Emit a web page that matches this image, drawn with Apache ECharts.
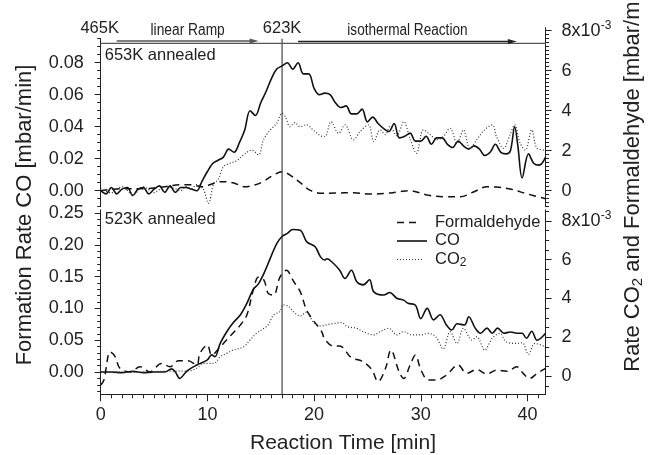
<!DOCTYPE html>
<html><head><meta charset="utf-8">
<script src="https://cdn.jsdelivr.net/npm/echarts@6/dist/echarts.min.js"></script>
<style>html,body{margin:0;padding:0;background:#fff}#c{width:650px;height:455px}</style>
</head><body><div id="c"></div>
<script>
// ---------- data (time [min], value) ----------
// top panel (653K annealed); CO in mbar/min, CO2 & formaldehyde in 1e-3 mbar/min
const coTop = [[0,0.000],[0.5,-0.002],[1,0.002],[1.5,-0.002],[2,0.001],[2.5,0.002],[3,-0.003],[3.5,0.001],[4,0.002],[4.5,-0.002],[5,0.001],[5.5,0.003],[6,-0.001],[6.5,0.003],[7,-0.001],[7.5,0.002],[8,0.002],[8.5,0.001],[9,0.000],[9.5,0.006],[10,0.012],[10.5,0.017],[11,0.019],[11.5,0.021],[12,0.026],[12.5,0.024],[13,0.030],[13.5,0.038],[14,0.050],[14.5,0.047],[15,0.055],[15.5,0.062],[16,0.070],[16.5,0.076],[17,0.078],[17.5,0.080],[18,0.076],[18.5,0.080],[19,0.073],[19.5,0.073],[20,0.064],[20.5,0.060],[21,0.061],[21.5,0.060],[22,0.055],[22.5,0.052],[23,0.053],[23.5,0.048],[24,0.048],[24.5,0.051],[25,0.043],[25.5,0.046],[26,0.042],[26.5,0.039],[27,0.037],[27.5,0.042],[28,0.033],[28.5,0.034],[29,0.036],[29.5,0.031],[30,0.031],[30.5,0.034],[31,0.029],[31.5,0.033],[32,0.033],[32.5,0.029],[33,0.027],[33.5,0.031],[34,0.028],[34.5,0.026],[35,0.028],[35.5,0.026],[36,0.022],[36.5,0.024],[37,0.029],[37.5,0.024],[38,0.023],[38.4,0.025],[38.8,0.040],[39.1,0.028],[39.5,0.008],[40.1,0.023],[40.6,0.017],[41.1,0.016],[41.7,0.021]];
const co2Top = [[0,0.1],[1,-0.1],[2,0.2],[3,-0.2],[4,0.2],[5,-0.1],[6,0.2],[7,0.1],[7.5,0.0],[8,0.2],[8.5,0.1],[9,0.3],[9.6,0.1],[10.1,-0.63],[10.6,0.37],[11,0.54],[11.5,1.2],[12.1,1.37],[12.75,1.5],[13.4,1.79],[14.15,2.03],[14.8,1.79],[15.25,2.54],[15.9,3.04],[16.5,3.37],[17,3.87],[17.3,3.7],[17.75,3.2],[18.2,3.4],[18.7,3.2],[19.3,3.3],[19.9,3.04],[20.6,2.75],[21.0,2.7],[21.6,3.45],[22.3,2.87],[22.9,3.29],[23.7,2.54],[24.3,2.95],[25.1,3.29],[25.6,2.45],[26.2,3.04],[26.7,2.8],[27.1,3.2],[27.75,2.75],[28.4,3.45],[29,2.6],[29.6,1.87],[30.25,3.04],[30.9,2.8],[31.5,2.55],[32.1,2.7],[32.75,3.12],[33.4,2.37],[34,3.04],[34.6,2.12],[35.25,2.55],[35.9,3.0],[36.7,3.29],[37.1,2.7],[37.75,2.12],[38.4,2.85],[38.8,3.29],[39.3,2.4],[39.8,2.03],[40.4,3.04],[40.9,2.12],[41.7,2.03]];
const hchoTop = [[0,0.0],[2,0.1],[4,0.1],[6,0.2],[7.5,0.3],[8.5,0.3],[9.5,0.2],[10.5,0.35],[11.2,0.45],[12.4,0.4],[13.5,0.2],[14.5,0.3],[15.2,0.45],[16.2,0.78],[17,0.95],[17.75,0.78],[18.7,0.4],[19.6,0.03],[20.7,-0.13],[22,-0.12],[23.7,-0.1],[25.2,-0.17],[26.8,-0.13],[28,-0.05],[29,0.0],[30,-0.12],[30.6,-0.22],[32.4,-0.3],[33.7,-0.3],[35,-0.05],[36.2,0.2],[37.1,0.18],[38.5,0.07],[39.9,-0.15],[41.7,-0.4]];
// bottom panel (523K annealed)
const coBot = [[0,0.000],[1,0.000],[2,-0.001],[3,0.001],[4,-0.001],[5,0.000],[6,0.000],[6.65,0.005],[7.0,0.000],[7.4,-0.010],[8.1,0.002],[9,0.011],[10,0.019],[10.4,0.027],[10.7,0.024],[11.2,0.045],[11.8,0.063],[12.4,0.077],[13.1,0.090],[13.7,0.108],[14.3,0.130],[14.8,0.139],[15.3,0.155],[15.9,0.179],[16.5,0.202],[17,0.213],[17.5,0.218],[18,0.224],[18.7,0.223],[19.3,0.205],[20.1,0.197],[20.6,0.181],[21.0,0.176],[21.2,0.178],[21.8,0.171],[22.4,0.160],[22.9,0.147],[23.5,0.160],[24,0.142],[24.6,0.137],[25.2,0.145],[25.6,0.126],[26.5,0.121],[27.1,0.125],[27.75,0.116],[28.4,0.113],[28.8,0.108],[29.5,0.105],[30,0.084],[30.6,0.100],[31.2,0.082],[31.8,0.090],[32.4,0.074],[32.9,0.066],[33.4,0.076],[34.1,0.074],[34.5,0.087],[35.1,0.069],[35.6,0.061],[36.2,0.069],[36.7,0.061],[37.2,0.069],[37.8,0.061],[38.4,0.063],[39.0,0.061],[39.5,0.061],[39.9,0.053],[40.4,0.064],[40.9,0.050],[41.7,0.061]];
const co2Bot = [[0,0.2],[2,0.2],[4,0.2],[6,0.25],[8,0.25],[9,0.4],[9.6,0.65],[10.6,0.65],[11.2,0.99],[11.8,1.17],[12.4,1.34],[13.4,1.51],[14,1.86],[14.6,2.2],[15.3,2.46],[15.7,2.64],[16.2,3.15],[16.8,3.32],[17.1,3.67],[17.6,3.6],[18.1,3.3],[18.7,3.1],[19.3,3.3],[19.9,2.8],[20.6,2.58],[21.5,2.68],[22.6,2.75],[23.1,2.55],[24,2.46],[24.6,2.29],[25.6,2.12],[26.2,2.29],[27,2.46],[27.75,2.12],[28.4,2.29],[29.2,2.12],[30,2.12],[30.7,2.2],[31.4,2.03],[32.1,1.4],[32.75,2.29],[33.4,1.68],[34,2.46],[34.8,1.86],[35.25,2.03],[36,1.34],[36.7,1.95],[37.4,2.2],[38,1.77],[39,1.68],[39.5,1.72],[40.1,1.12],[40.7,1.68],[41.7,1.51]];
const hchoBot = [[0,-0.46],[0.3,-0.2],[0.9,1.25],[1.35,1.0],[1.8,0.4],[2.75,0.22],[3.7,0.48],[4.6,0.22],[5.7,0.65],[6.5,0.48],[7.3,0.79],[8.2,0.79],[9.0,0.57],[9.3,1.17],[10,1.6],[10.4,1.08],[11.2,1.5],[12.1,2.04],[13.1,2.64],[13.7,3.15],[14.3,4.43],[14.8,5.1],[15.3,4.95],[15.7,4.26],[16.2,4.18],[16.8,5.1],[17.4,5.45],[18.1,4.86],[18.7,4.35],[19.3,3.4],[19.9,2.89],[20.7,2.3],[21.0,1.9],[21.8,1.55],[22.4,1.55],[23.5,0.94],[24.5,0.77],[25.4,0.34],[26,-0.29],[26.7,0.4],[27.2,1.34],[28,0.17],[28.4,-0.12],[29,0.57],[29.5,1.08],[30,0.34],[30.7,-0.2],[31.5,-0.2],[32.4,0.05],[33.5,0.57],[34.3,0.14],[35.25,0.34],[36.2,0.1],[37.1,0.3],[38.1,0.25],[39,0.48],[39.6,0.14],[40.2,-0.12],[40.9,0.14],[41.7,0.4]];

// tick labels
const xTicks = [0, 10, 20, 30, 40];
const coTopTicks = [0, 0.02, 0.04, 0.06, 0.08];
const coBotTicks = [0, 0.05, 0.10, 0.15, 0.20, 0.25];
const rightTicks = [0, 2, 4, 6, 8];
const legendNames = ['Formaldehyde', 'CO', 'CO2'];
const rampStartT = 0, rampEndT = 17;
const tempLabels = ['465K', '623K'];

// ---------- styling ----------
const FONT = '"Liberation Sans", Arial, Helvetica, sans-serif';
const INK = '#222';
const X_MIN = 0, X_MAX = 41.7;
function steps(a, b, s) { const o = []; const n = Math.round((b - a) / s); for (let i = 0; i <= n; i++) o.push(+(a + i * s).toFixed(6)); return o; }

const labelRich = { sup: { fontSize: 12, fontFamily: FONT, color: INK, padding: [0, 0, 10, 0] } };
function yAx(grid, pos, min, max, ticks, len, labels) {
  return {
    type: 'value', gridIndex: grid, position: pos, min: min, max: max,
    splitLine: { show: false },
    axisLine: { show: !!labels, onZero: false, lineStyle: { color: INK, width: 1 } },
    axisTick: { show: true, customValues: ticks, length: len, inside: false, lineStyle: { color: INK, width: 1 } },
    axisLabel: labels ? { show: true, customValues: labels.values, formatter: labels.fmt, margin: pos === 'left' ? 17 : 16, fontSize: 18, color: INK, fontFamily: FONT, rich: labelRich } : { show: false }
  };
}
function xAx(grid, show, ticks, len, labels) {
  return {
    type: 'value', gridIndex: grid, position: 'bottom', min: X_MIN, max: X_MAX, show: show,
    splitLine: { show: false },
    axisLine: { show: !!labels, onZero: false, lineStyle: { color: INK, width: 1 } },
    axisTick: { show: true, customValues: ticks, length: len, lineStyle: { color: INK, width: 1 } },
    axisLabel: labels ? { show: true, customValues: labels, margin: 12, fontSize: 18, color: INK, fontFamily: FONT } : { show: false }
  };
}
const rightFmt = v => Math.round(v) === 8 ? '8x10{sup|-3}' : String(Math.round(v));

const gridBase = { left: 100.7, right: 104.4, outerBoundsMode: 'none', containLabel: false };
const option = {
  animation: false,
  backgroundColor: '#fff',
  grid: [
    Object.assign({ top: 38.7, height: 168 }, gridBase),
    Object.assign({ top: 27.7, height: 179 }, gridBase),
    Object.assign({ top: 209.8, height: 184.5 }, gridBase),
    Object.assign({ top: 209.8, height: 184.5 }, gridBase)
  ],
  xAxis: [
    xAx(0, false, [], 0, null),
    xAx(1, false, [], 0, null),
    xAx(2, true, xTicks, 7, xTicks),
    xAx(2, true, steps(0, 41, 1), 4, null),
    xAx(3, false, [], 0, null)
  ],
  yAxis: [
    yAx(0, 'left', -0.01, 0.095, coTopTicks, 6, { values: coTopTicks, fmt: v => v.toFixed(2) }),
    yAx(0, 'left', -0.01, 0.095, steps(-0.01, 0.095, 0.005), 3.5, null),
    yAx(1, 'right', -0.8, 8.15, rightTicks, 6, { values: rightTicks, fmt: rightFmt }),
    yAx(1, 'right', -0.8, 8.15, steps(-0.8, 8.0, 0.2), 3.5, null),
    yAx(2, 'left', -0.035, 0.255, coBotTicks, 6, { values: coBotTicks, fmt: v => v.toFixed(2) }),
    yAx(2, 'left', -0.035, 0.255, steps(-0.03, 0.25, 0.01), 3.5, null),
    yAx(3, 'right', -0.94, 8.57, rightTicks, 6, { values: rightTicks, fmt: rightFmt }),
    yAx(3, 'right', -0.94, 8.57, steps(-0.5, 8.5, 0.5), 3.5, null)
  ],
  series: []
};
const solid = { color: '#111', width: 1.6, type: 'solid' };
const dashed = { color: '#111', width: 1.5, type: [7, 5] };
const dotted = { color: '#333', width: 1.2, type: [1, 2] };
function line(name, data, xi, yi, ls) {
  return { type: 'line', name: name, data: data, xAxisIndex: xi, yAxisIndex: yi, showSymbol: false, symbol: 'none',
    smooth: 0.35, lineStyle: ls, itemStyle: { color: ls.color }, z: 3 };
}
option.series.push(
  line('Formaldehyde', hchoBot, 4, 6, dashed),
  line('CO', coBot, 2, 4, solid),
  line('CO2', co2Bot, 4, 6, dotted),
  line('Formaldehyde', hchoTop, 1, 2, dashed),
  line('CO', coTop, 0, 0, solid),
  line('CO2', co2Top, 1, 2, dotted)
);

const chart = echarts.init(document.getElementById('c'), null, { renderer: 'canvas' });
chart.setOption(option);

// ---------- annotations positioned through the axes ----------
const px = t => chart.convertToPixel({ xAxisIndex: 2 }, t);
const xR0 = px(rampStartT), xR1 = px(rampEndT), xEnd = px(X_MAX);
function txt(text, x, y, size, align, extra) {
  return { type: 'text', x: x, y: y, z: 10, silent: true,
    style: Object.assign({ text: text, fill: INK, fontSize: size, fontFamily: FONT,
      align: align || 'center', verticalAlign: 'middle', textAlign: align || 'center', textVerticalAlign: 'middle' }, extra || {}) };
}
function arrow(x1, x2, y, color) {
  return [
    { type: 'line', z: 10, silent: true, shape: { x1: x1, y1: y, x2: x2 - 6, y2: y }, style: { stroke: color, lineWidth: 1.3 } },
    { type: 'polygon', z: 10, silent: true, shape: { points: [[x2, y], [x2 - 9, y - 2.5], [x2 - 9, y + 2.5]] }, style: { fill: color } }
  ];
}
const subRich = s => ({ sub: { fontSize: s, fontFamily: FONT, fill: INK, padding: [Math.round(s * 0.65), 0, 0, 0] } });
const g = [];
g.push({ type: 'line', z: 9, silent: true, shape: { x1: xR1, y1: 38.7, x2: xR1, y2: 394.3 }, style: { stroke: INK, lineWidth: 1 } });
g.push({ type: 'line', z: 9, silent: true, shape: { x1: xR0, y1: 43.3, x2: xEnd, y2: 43.3 }, style: { stroke: '#555', lineWidth: 1.3 } });
g.push(...arrow(px(1.5), px(14.8), 41, '#555'));
g.push(...arrow(px(18.5), px(39.0), 41.5, '#222'));
g.push(txt(tempLabels[0], xR0 - 1, 28, 16.5));
g.push(txt(tempLabels[1], xR1, 28, 16.5));
g.push(Object.assign(txt('linear Ramp', (px(1.5) + px(14.8)) / 2, 31, 16), { scaleX: 0.86 }));
g.push(Object.assign(txt('isothermal Reaction', (px(18.5) + px(39.0)) / 2, 31, 16), { scaleX: 0.85 }));
g.push(txt('653K annealed', xR0 + 4, 55, 16.5, 'left'));
g.push(txt('523K annealed', xR0 + 4, 219, 16.5, 'left'));
g.push(txt('Reaction Time [min]', 343, 443, 21));
g.push(Object.assign(txt('Formation Rate CO [mbar/min]', 25, 215, 22), { rotation: Math.PI / 2 }));
g.push(Object.assign(txt('Rate CO{sub|2} and Formaldehyde [mbar/min]', 633, 175, 22, 'center', { rich: subRich(15) }), { rotation: Math.PI / 2 }));

// legend (series styles reused)
const legendStyles = [dashed, solid, dotted];
const legendLens = [22, 30, 26];
const legendYs = [222.5, 241, 259.5];
legendNames.forEach((n, i) => {
  const ls = legendStyles[i];
  g.push({ type: 'line', z: 10, silent: true, shape: { x1: 397, y1: legendYs[i], x2: 397 + legendLens[i], y2: legendYs[i] },
    style: { stroke: ls.color, lineWidth: ls.width, lineDash: Array.isArray(ls.type) ? ls.type : null } });
  g.push(txt(n === 'CO2' ? 'CO{sub|2}' : n, 435, legendYs[i] - 0.5, 16.5, 'left', n === 'CO2' ? { rich: subRich(12) } : {}));
});
chart.setOption({ graphic: { elements: g } });
</script>
</body></html>
